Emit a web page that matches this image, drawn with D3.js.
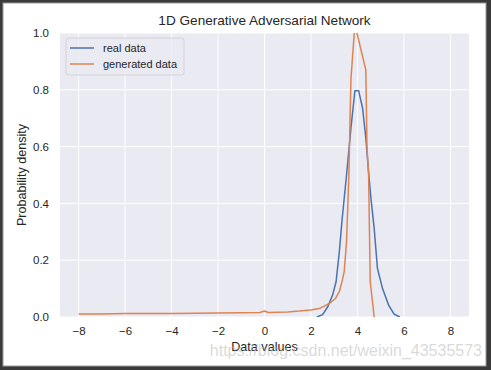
<!DOCTYPE html>
<html>
<head>
<meta charset="utf-8">
<script src="https://cdn.jsdelivr.net/npm/d3@7"></script>
<style>
  body { margin: 0; background: #fff; }
  svg { display: block; font-family: Arial, "Liberation Sans", sans-serif; }
</style>
</head>
<body>
<svg id="chart" width="491" height="370"></svg>
<script>
// values
const realX = [2.25, 2.5, 2.72, 2.93, 3.08, 3.22, 3.33, 3.43, 3.53, 3.72, 3.89, 4.05, 4.22, 4.36, 4.5, 4.58, 4.72, 4.86, 5.08, 5.34, 5.58, 5.82]
const realY = [0, 0.008, 0.036, 0.077, 0.124, 0.23, 0.335, 0.418, 0.5, 0.665, 0.797, 0.797, 0.736, 0.63, 0.49, 0.418, 0.312, 0.171, 0.1, 0.042, 0.01, 0]

const genX = [-8, -7, -6, -5, -4, -3, -2, -1, -0.2, 0, 0.16, 1, 1.5, 2, 2.4, 2.8, 3.05, 3.22, 3.35, 3.43, 3.53, 3.58, 3.63, 3.72, 3.89, 4.36, 4.41, 4.48, 4.55, 4.72]
const genY = [0.011, 0.011, 0.012, 0.012, 0.012, 0.013, 0.014, 0.015, 0.016, 0.021, 0.016, 0.018, 0.021, 0.025, 0.031, 0.048, 0.065, 0.089, 0.13, 0.16, 0.265, 0.38, 0.5, 0.84, 1.03, 0.87, 0.6, 0.5, 0.124, 0]

const xTicks = [-8, -6, -4, -2, 0, 2, 4, 6, 8]
const yTicks = [0, 0.2, 0.4, 0.6, 0.8, 1.0]
const seriesNames = ['real data', 'generated data']
const seriesColors = ['#4c72b0', '#dd8452']

const svg = d3.select('#chart')
const W = 491, H = 370
const margin = {left: 60, right: 22, top: 33, bottom: 53}
const pw = W - margin.left - margin.right
const ph = H - margin.top - margin.bottom

// outer frame
svg.append('rect').attr('width', W).attr('height', H).attr('fill', '#3a3a3a')
svg.append('rect').attr('x', 3).attr('y', 3).attr('width', W - 8).attr('height', H - 7)
    .attr('fill', '#fff').attr('stroke', '#9a9a9a').attr('stroke-width', 1)

const x = d3.scaleLinear().domain([-8.8, 8.8]).range([0, pw])
const y = d3.scaleLinear().domain([0, 1]).range([ph, 0])

const g = svg.append('g').attr('transform', `translate(${margin.left}, ${margin.top})`)

g.append('rect').attr('width', pw).attr('height', ph).attr('fill', '#eaeaf2')

g.append('defs').append('clipPath').attr('id', 'clip')
    .append('rect').attr('width', pw).attr('height', ph)

// grid
g.selectAll('.vgrid').data(xTicks).enter().append('line')
    .attr('x1', d => x(d)).attr('x2', d => x(d)).attr('y1', 0).attr('y2', ph)
    .attr('stroke', '#fff').attr('stroke-width', 1)
g.selectAll('.hgrid').data(yTicks).enter().append('line')
    .attr('y1', d => y(d)).attr('y2', d => y(d)).attr('x1', 0).attr('x2', pw)
    .attr('stroke', '#fff').attr('stroke-width', 1)

// axes (labels only, seaborn style)
const xAxis = g.append('g').attr('transform', `translate(0, ${ph})`)
    .call(d3.axisBottom(x).tickValues(xTicks).tickSize(0).tickPadding(10)
        .tickFormat(d => d < 0 ? '\u2212' + Math.abs(d) : d))
const yAxis = g.append('g')
    .call(d3.axisLeft(y).tickValues(yTicks).tickSize(0).tickPadding(11).tickFormat(d3.format('.1f')))
;[xAxis, yAxis].forEach(a => {
    a.select('.domain').remove()
    a.selectAll('text').attr('fill', '#262626').style('font-size', '11.5px')
        .style('font-family', 'Arial, "Liberation Sans", sans-serif')
})

// lines
const line = d3.line().x(d => x(d[0])).y(d => y(d[1]))
const realData = realX.map((v, i) => [v, realY[i]])
const genData = genX.map((v, i) => [v, genY[i]])
const lines = g.append('g').attr('clip-path', 'url(#clip)')
lines.append('path').datum(realData).attr('d', line)
    .attr('fill', 'none').attr('stroke', seriesColors[0]).attr('stroke-width', 1.5)
lines.append('path').datum(genData).attr('d', line)
    .attr('fill', 'none').attr('stroke', seriesColors[1]).attr('stroke-width', 1.5)
    .attr('stroke-linejoin', 'round')

// legend
const lg = g.append('g').attr('transform', 'translate(6, 5)')
lg.append('rect').attr('width', 118).attr('height', 37).attr('rx', 2.5)
    .attr('fill', '#eaeaf2').attr('fill-opacity', 0.8).attr('stroke', '#cccccc').attr('stroke-width', 0.8)
seriesNames.forEach((name, i) => {
    const row = lg.append('g').attr('transform', `translate(0, ${10 + i * 16})`)
    row.append('line').attr('x1', 4).attr('x2', 28).attr('y1', 0).attr('y2', 0)
        .attr('stroke', seriesColors[i]).attr('stroke-width', 1.5)
    row.append('text').attr('x', 37).attr('y', 4).text(name)
        .attr('fill', '#262626').style('font-size', '11px')
})

// titles
svg.append('text').attr('x', margin.left + pw / 2).attr('y', 25).attr('text-anchor', 'middle')
    .attr('fill', '#262626').style('font-size', '13.6px').text('1D Generative Adversarial Network')
svg.append('text').attr('x', margin.left + pw / 2).attr('y', 351).attr('text-anchor', 'middle')
    .attr('fill', '#262626').style('font-size', '12.6px').text('Data values')
svg.append('text').attr('transform', `translate(26, ${margin.top + ph / 2}) rotate(-90)`)
    .attr('text-anchor', 'middle').attr('fill', '#262626').style('font-size', '12.6px')
    .text('Probability density')

// watermark
svg.append('text').attr('x', 482).attr('y', 356).attr('text-anchor', 'end')
    .attr('fill', '#b4b4b4').attr('fill-opacity', 0.5).style('font-size', '16px')
    .text('https://blog.csdn.net/weixin_43535573')
</script>
</body>
</html>
